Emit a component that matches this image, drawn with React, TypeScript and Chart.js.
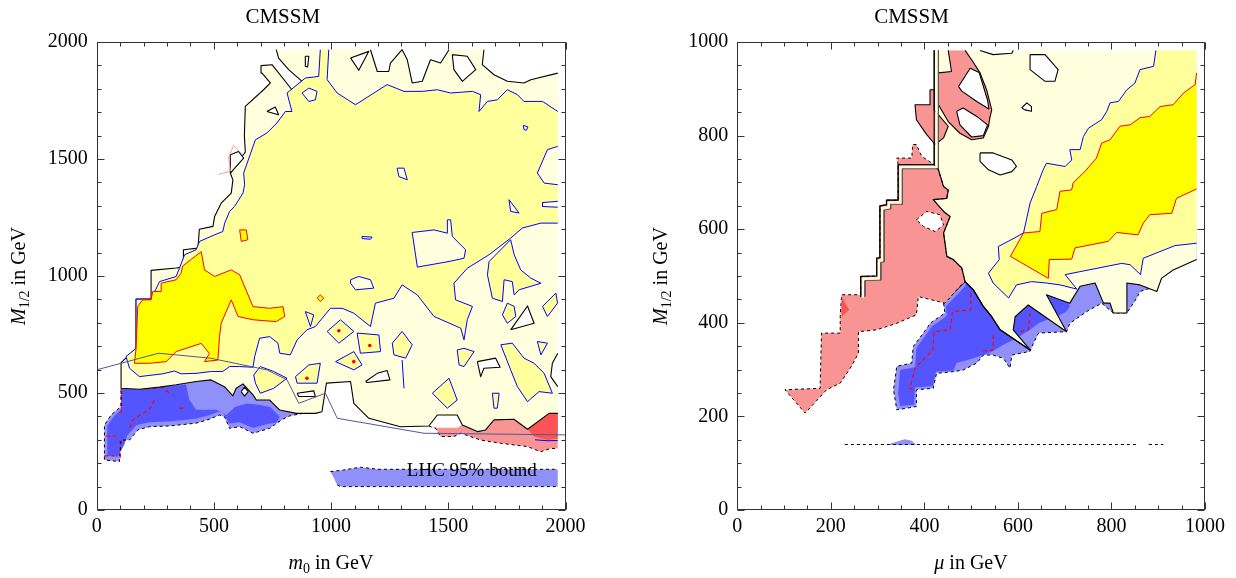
import React, { useEffect, useRef } from "react";
import { Chart, registerables } from "chart.js";
Chart.register(...registerables);

type P = [number, number];

const SERIF = '"Liberation Serif", "DejaVu Serif", serif';

// ---------- axes / labels ----------
const chartTitle = "CMSSM";
const leftTicks = [0, 500, 1000, 1500, 2000];
const rightTicks = [0, 200, 400, 600, 800, 1000];
const leftEdge = 1967; // extent of the scanned grid (left panel)
const rightEdge = 982; // extent of the scanned grid (right panel)
const lhcLabel = { text: "LHC 95% bound", x: 1600, y: 165 };

// ---------- colours ----------
const C = {
  ly: "#FFFFDE",
  my: "#FFFF9C",
  by: "#FFFF00",
  pink: "#F99494",
  dred: "#FA5454",
  lblue: "#9090FA",
  dblue: "#5555FF",
  blue: "#0000FF",
  red: "#FF0000",
  black: "#000000",
  white: "#FFFFFF",
  lhc: "#55559A",
};

// =================== LEFT PANEL (m0, M1/2) ===================
const L_outer: P[] = [[104,520],[104,630],[168,691],[168,901],[232,901],[232,1024],[339,1034],[370,1038],[370,1112],[432,1119],[438,1200],[496,1212],[503,1254],[531,1311],[574,1354],[581,1411],[570,1440],[600,1480],[634,1530],[630,1600],[634,1725],[712,1796],[741,1825],[705,1867],[701,1899],[748,1903],[833,1796],[876,1832],[819,1882],[776,1931],[766,1967],[1168,1967],[1197,1874],[1246,1874],[1253,1910],[1303,1967],[1325,1924],[1346,1825],[1389,1832],[1424,1924],[1467,1910],[1503,1967],[1652,1967],[1645,1903],[1695,1860],[1752,1832],[1823,1825],[1852,1839],[1967,1867],[1967,670],[1944,627],[1937,570],[1967,527],[1967,413],[1930,413],[1838,345],[1780,388],[1695,385],[1659,342],[1624,335],[1560,363],[1538,406],[1453,406],[1417,359],[1296,356],[1161,392],[1097,456],[1083,549],[980,542],[961,420],[933,413],[852,413],[781,427],[738,470],[681,470],[667,492],[624,539],[595,520],[581,488],[545,527],[488,556],[424,549],[339,535],[268,525],[182,516]];
const L_mid: P[] = [[125,656],[168,691],[168,901],[232,901],[268,976],[339,998],[353,1033],[375,1091],[424,1112],[439,1148],[503,1176],[538,1190],[546,1226],[567,1276],[588,1297],[624,1354],[631,1390],[627,1440],[677,1582],[726,1611],[769,1654],[805,1703],[833,1703],[812,1782],[890,1846],[947,1853],[954,1967],[990,1967],[983,1839],[1026,1782],[1104,1732],[1239,1818],[1311,1789],[1389,1789],[1453,1796],[1510,1782],[1603,1789],[1638,1775],[1631,1703],[1667,1746],[1709,1753],[1752,1796],[1795,1775],[1823,1746],[1902,1746],[1967,1703],[1967,1554],[1923,1540],[1880,1440],[1909,1397],[1967,1390],[1967,1319],[1902,1314],[1902,1297],[1967,1294],[1967,1226],[1895,1226],[1816,1205],[1766,1162],[1674,1091],[1581,1033],[1524,969],[1531,898],[1603,870],[1581,813],[1567,727],[1553,777],[1439,827],[1368,919],[1303,962],[1268,905],[1189,884],[1168,784],[1097,841],[1047,862],[997,862],[933,784],[897,770],[855,727],[826,663],[781,670],[773,713],[738,741],[695,734],[674,656],[667,610],[610,613],[567,613],[538,592],[489,592],[424,584],[360,582],[332,594],[282,582],[182,570],[140,606]];
const L_paleIslands: P[][] = [
  [[1346,1186],[1439,1197],[1496,1183],[1496,1240],[1510,1240],[1517,1169],[1574,1112],[1567,1076],[1503,1062],[1368,1038]],
  [[1282,1461],[1311,1461],[1325,1411],[1289,1425]],
  [[1759,1326],[1802,1269],[1766,1276]],
  [[1820,1644],[1840,1637],[1833,1623],[1823,1626]],
  [[1083,984],[1118,998],[1168,984],[1182,948],[1104,941],[1083,969]],
  [[1132,1169],[1175,1166],[1168,1157],[1132,1160]],
  [[876,1782],[905,1803],[940,1789],[933,1753],[905,1746]],
];
const L_midIslands: P[][] = [
  [[890,848],[926,834],[912,784]],
  [[983,763],[1040,813],[1097,763],[1033,713]],
  [[1111,756],[1204,748],[1211,677],[1125,670]],
  [[1019,634],[1097,677],[1132,620],[1097,599]],
  [[1261,713],[1303,763],[1346,706],[1318,649],[1268,663]],
  [[1538,684],[1567,691],[1610,677],[1567,613],[1546,620]],
  [[1724,706],[1773,713],[1823,649],[1866,627],[1909,584],[1944,499],[1887,506],[1838,463],[1795,527],[1766,599]],
  [[848,570],[905,620],[954,627],[940,542],[855,542]],
  [[670,577],[698,613],[755,592],[812,563],[755,520],[698,499],[677,542]],
  [[1432,499],[1503,563],[1538,470],[1496,435]],
  [[1688,499],[1717,499],[1709,435],[1695,435]],
  [[1731,834],[1752,884],[1781,870],[1788,827],[1752,798]],
  [[1902,870],[1959,927],[1966,884],[1923,827]],
  [[1880,720],[1923,713],[1895,663]],
  [[1674,1062],[1667,1005],[1688,905],[1731,891],[1738,984],[1773,976],[1781,919],[1802,941],[1895,969],[1852,991],[1809,1026],[1781,1091],[1766,1155]],
];
const L_stalk: P[] = [[1303,641],[1311,520]];
const L_best: P[] = [[161,627],[168,691],[175,870],[196,898],[232,898],[239,934],[275,934],[275,969],[339,984],[360,1012],[367,1043],[446,1104],[460,1026],[503,998],[574,1026],[610,1005],[667,869],[738,862],[795,869],[802,827],[766,805],[667,813],[603,827],[574,898],[531,798],[524,741],[517,641],[460,634],[481,669],[446,712],[424,705],[339,677],[296,634],[225,627]];
const L_bestSmall: P[][] = [
  [[940,905],[954,919],[969,905],[954,891]],
  [[610,1197],[638,1197],[645,1155],[617,1148]],
];
const L_redDots: P[] = [[1033,766],[1097,634],[897,563],[1165,703]];
const L_holes: P[][] = [
  [[1766,770],[1838,872],[1866,798]],
  [[1624,634],[1702,649],[1721,610],[1652,606],[1638,570]],
  [[1147,549],[1197,584],[1239,596],[1251,556],[1154,545]],
  [[855,499],[926,509],[933,485],[862,485]],
  [[1083,1932],[1161,1960],[1118,1879]],
  [[890,1939],[905,1939],[900,1893],[890,1896]],
  [[1517,1946],[1581,1939],[1617,1882],[1560,1832],[1524,1882]],
  [[726,1703],[762,1722],[776,1689]],
  [[570,1518],[605,1532],[627,1504],[570,1440]],
  [[616,506],[631,525],[646,506],[631,487]],
];
const L_pinkTrace: P[] = [[520,1434],[570,1448],[563,1508],[584,1558],[627,1515]];
const L_lightBlue: P[] = [[104,520],[182,516],[268,525],[339,535],[424,549],[488,556],[545,527],[581,488],[595,520],[624,539],[667,492],[681,470],[738,470],[781,427],[852,413],[880,413],[823,402],[788,385],[738,349],[667,328],[610,356],[567,349],[545,399],[524,406],[481,388],[424,371],[310,359],[225,356],[175,342],[140,299],[104,299],[97,207],[33,214],[33,363],[61,406],[104,442]];
const L_lightBlueEdge: P[] = [[880,413],[823,402],[788,385],[738,349],[667,328],[610,356],[567,349],[545,399],[524,406],[481,388],[424,371],[310,359],[225,356],[175,342],[140,299],[104,299],[97,207],[33,214],[33,363],[61,406],[104,442],[104,520]];
const L_darkBlue: P[] = [[104,520],[182,516],[268,525],[382,536],[396,470],[424,428],[510,428],[553,406],[590,440],[640,455],[690,450],[740,440],[780,400],[770,375],[720,365],[667,350],[610,375],[565,370],[540,415],[520,420],[480,405],[420,390],[310,378],[225,375],[170,362],[130,318],[118,280],[90,228],[45,232],[45,360],[72,398],[104,430]];
const L_bluePatch: P[] = [[382,536],[424,549],[488,556],[505,520],[485,480],[440,470],[396,470]];
const L_redDashes: P[][] = [
  [[104,520],[104,413]],
  [[40,316],[82,316]],
  [[33,231],[75,231]],
  [[100,299],[100,214]],
  [[211,516],[282,525],[310,499]],
  [[246,470],[225,428],[196,413],[154,385],[140,349]],
  [[353,435],[375,435]],
];
const L_pink: P[] = [[1417,359],[1453,352],[1540,352],[1560,365],[1575,420],[1967,420],[1967,263],[1937,263],[1894,249],[1838,271],[1724,285],[1638,299],[1553,328],[1524,314],[1467,314],[1446,349]];
const L_darkRed: P[] = [[1838,345],[1930,413],[1967,413],[1967,306],[1925,299],[1866,314]];
const L_pinkEdge: P[] = [[1417,359],[1446,349],[1467,314],[1524,314],[1553,328],[1638,299],[1724,285],[1838,271],[1894,249],[1937,263],[1967,263]];
const L_redBlueBit: P[] = [[1870,300],[1925,296],[1967,297]];
const L_lhcBand: P[] = [[997,164],[1054,171],[1125,183],[1200,174],[1967,174],[1967,100],[1040,100],[1026,107],[1010,140]];
const L_lhcBandTop: P[] = [[997,164],[1054,171],[1125,183],[1200,174],[1967,174]];
const L_lhcBandBottom: P[] = [[1026,107],[1040,100],[1967,100]];
const L_lhcCurve: P[] = [[0,599],[264,670],[484,649],[726,599],[812,556],[862,456],[976,499],[1026,392],[1396,328],[2000,321]];

// =================== RIGHT PANEL (mu, M1/2) ===================
const R_outer: P[] = [[421,982],[982,982],[982,535],[932,513],[907,495],[897,467],[861,481],[833,485],[833,421],[804,421],[797,442],[783,442],[765,485],[733,478],[711,442],[661,460],[704,381],[622,438],[594,413],[590,385],[626,342],[562,385],[544,413],[526,435],[505,470],[487,488],[476,478],[444,446],[383,460],[264,456],[264,499],[298,500],[298,538],[305,539],[305,650],[319,652],[319,662],[344,662],[344,738],[421,738]];
const R_mid: P[] = [[895,982],[982,982],[982,570],[936,565],[868,538],[862,503],[840,524],[822,527],[701,503],[726,472],[690,481],[661,485],[629,488],[597,481],[580,453],[547,485],[537,506],[560,535],[558,563],[583,576],[612,592],[626,656],[640,691],[654,727],[661,741],[701,734],[715,748],[711,770],[733,770],[740,798],[751,816],[779,834],[790,852],[797,870],[815,873],[833,898],[850,912],[861,941],[890,948]];
const R_best: P[] = [[982,934],[979,909],[954,891],[932,866],[904,862],[882,841],[861,838],[840,823],[818,820],[797,791],[779,784],[768,752],[743,723],[718,699],[715,684],[690,681],[683,642],[651,634],[647,595],[612,592],[584,542],[665,495],[667,535],[715,536],[722,560],[793,574],[811,593],[857,588],[868,613],[882,631],[929,634],[939,666],[982,686]];
const R_holes: P[][] = [
  [[626,973],[658,973],[686,941],[679,916],[658,916],[626,941]],
  [[608,859],[619,870],[629,862],[629,852],[615,855]],
  [[519,763],[547,763],[587,748],[597,734],[587,723],[562,716],[537,727],[519,745]],
  [[519,982],[547,973],[587,976],[590,982]],
];
const R_pinkTop: P[] = [[451,982],[487,982],[501,962],[519,934],[533,898],[544,855],[540,838],[537,820],[526,795],[501,791],[476,805],[451,830],[430,866],[430,934],[458,937]];
const R_pinkTopHoles: P[][] = [
  [[473,905],[498,944],[517,935],[535,876],[538,857],[512,873],[480,895]],
  [[469,852],[483,859],[512,841],[535,823],[526,800],[501,797],[476,823]],
];
const R_pink2: P[] = [[412,898],[421,898],[421,855],[451,820],[441,795],[423,781],[405,802],[383,834],[380,866],[412,866]];
const R_pinkMain: P[] = [[344,738],[341,752],[373,752],[375,781],[383,781],[394,756],[421,738],[430,727],[441,691],[451,684],[448,666],[419,663],[441,638],[455,627],[441,592],[448,542],[462,535],[480,517],[487,488],[476,478],[444,442],[387,456],[383,417],[341,399],[298,385],[259,381],[259,335],[244,307],[220,271],[191,257],[145,207],[102,257],[177,260],[180,378],[220,378],[220,413],[223,460],[264,460],[264,499],[298,500],[298,538],[305,539],[305,650],[319,652],[319,662],[344,662]];
const R_pinkMainHole: P[] = [[383,620],[405,638],[433,631],[441,609],[423,595],[398,606]];
const R_darkRed: P[] = [[223,456],[239,428],[223,413]];
const R_pinkRightEdge: P[] = [[626,342],[562,385],[544,413],[526,435],[505,470],[487,488],[480,517],[462,535],[448,542],[441,592],[455,627],[441,638],[419,663],[448,666],[451,684],[441,691],[430,727],[421,738]];
const R_stair: P[] = [[421,982],[421,738],[344,738],[344,662],[319,662],[319,652],[305,650],[305,539],[298,538],[298,500],[264,499],[264,456]];
const R_stairGap: P[] = [[426,982],[426,733],[349,733],[349,657],[324,657],[324,647],[310,645],[310,534],[303,533],[303,495],[269,494],[269,456]];
const R_stairInner: P[] = [[430,982],[430,729],[353,729],[353,653],[328,653],[328,643],[314,641],[314,530],[307,529],[307,491],[273,490],[273,456]];
const R_lightBlue: P[] = [[441,442],[444,421],[412,399],[408,392],[376,349],[373,314],[341,307],[334,257],[341,214],[383,221],[383,257],[419,260],[426,292],[465,296],[483,299],[512,314],[526,331],[547,331],[569,324],[583,303],[587,331],[626,339],[633,356],[644,378],[704,381],[711,399],[747,424],[779,442],[804,421],[833,421],[854,453],[861,467],[897,478],[907,495],[932,513],[954,527],[982,535],[982,599],[626,599],[483,527],[469,485]];
const R_lightBlueEdge: P[] = [[441,442],[444,421],[412,399],[408,392],[376,349],[373,314],[341,307],[334,257],[341,214],[383,221],[383,257],[419,260],[426,292],[465,296],[483,299],[512,314],[526,331],[547,331],[569,324],[583,303],[587,331],[626,339],[633,356],[644,378],[704,381],[711,399],[747,424],[779,442],[804,421],[833,421],[854,453],[861,467],[897,478],[907,495],[932,513],[954,527],[982,535]];
const R_darkBlue: P[] = [[446,435],[448,415],[416,392],[383,346],[380,305],[348,299],[344,249],[348,222],[378,225],[380,262],[418,265],[425,296],[462,298],[469,314],[505,324],[540,336],[569,353],[597,367],[626,385],[644,399],[661,406],[683,413],[704,424],[711,435],[697,470],[626,527],[498,513],[487,478]];
const R_redDashes: P[][] = [
  [[499,463],[499,428],[460,424],[455,385],[421,381],[418,342],[380,303],[369,260],[383,253]],
  [[626,421],[622,385],[605,381]],
  [[547,374],[547,342],[519,339]],
];
const R_baseBump: P[] = [[319,139],[340,146],[358,151],[373,148],[383,139]];
const R_baseLines: P[][] = [
  [[230,140],[857,140]],
  [[880,140],[911,140]],
];

// ---------- helpers ----------
const xy = (poly: P[]) => poly.map(([x, y]) => ({ x, y }));

function outline(poly: P[], lim: number) {
  const out: any[] = [];
  const n = poly.length;
  for (let i = 0; i <= n; i++) {
    const p = poly[i % n];
    if (i > 0) {
      const q = poly[i - 1];
      const onEdge = (q[0] >= lim && p[0] >= lim) || (q[1] >= lim && p[1] >= lim);
      if (onEdge) out.push({ x: null, y: null });
    }
    out.push({ x: p[0], y: p[1] });
  }
  return out;
}

class Layers {
  list: any[] = [];
  lim: number;
  constructor(lim: number) { this.lim = lim; }
  push(d: any) { d.order = -this.list.length; this.list.push(d); }
  area(poly: P[], color: string) {
    this.push({ data: xy(poly), showLine: true, fill: "shape", backgroundColor: color, borderColor: "rgba(0,0,0,0)", borderWidth: 0, pointRadius: 0, tension: 0 });
  }
  line(data: any[], color: string, width = 1, dash: number[] = []) {
    this.push({ data, showLine: true, fill: false, borderColor: color, borderWidth: width, borderDash: dash, borderJoinStyle: "round", pointRadius: 0, tension: 0, spanGaps: false });
  }
  path(poly: P[], color: string, width = 1, dash: number[] = []) { this.line(xy(poly), color, width, dash); }
  shape(poly: P[], fillColor: string, lineColor: string, width = 1, dash: number[] = []) {
    this.area(poly, fillColor);
    this.line(outline(poly, this.lim), lineColor, width, dash);
  }
  dots(points: P[], color: string, r: number) {
    this.push({ data: xy(points), showLine: false, pointRadius: r, pointBackgroundColor: color, pointBorderWidth: 0 });
  }
}

const DASH = [3, 3];

function leftDatasets() {
  const b = new Layers(leftEdge);
  b.area(L_lhcBand, C.lblue);
  b.path(L_lhcBandTop, C.black, 1, DASH);
  b.path(L_lhcBandBottom, C.black, 1, DASH);
  b.area(L_lightBlue, C.lblue);
  b.area(L_darkBlue, C.dblue);
  b.area(L_bluePatch, C.lblue);
  L_redDashes.forEach((d) => b.path(d, C.red, 1.2, [4, 3]));
  b.path(L_lightBlueEdge, C.black, 1, DASH);
  b.area(L_pink, C.pink);
  b.area(L_darkRed, C.dred);
  b.path(L_redBlueBit, C.blue, 1);
  b.path(L_pinkEdge, C.black, 1, DASH);
  b.shape(L_outer, C.ly, C.black, 1.1);
  b.shape(L_mid, C.my, C.blue, 1);
  L_paleIslands.forEach((p) => b.shape(p, C.ly, C.blue, 1));
  L_midIslands.forEach((p) => b.shape(p, C.my, C.blue, 1));
  b.path(L_stalk, C.blue, 1);
  b.shape(L_best, C.by, C.red, 1);
  L_bestSmall.forEach((p) => b.shape(p, C.by, C.red, 1));
  L_holes.forEach((p) => b.shape(p, C.white, C.black, 1.1));
  b.path(L_pinkTrace, "#FF9A9A", 1);
  b.dots(L_redDots, C.red, 1.8);
  b.path(L_lhcCurve, C.lhc, 1);
  return b.list;
}

function rightDatasets() {
  const b = new Layers(rightEdge);
  b.area(R_baseBump, C.lblue);
  R_baseLines.forEach((d) => b.path(d, C.black, 1, DASH));
  b.area(R_lightBlue, C.lblue);
  b.area(R_darkBlue, C.dblue);
  R_redDashes.forEach((d) => b.path(d, C.red, 1.2, [4, 3]));
  b.path(R_lightBlueEdge, C.black, 1, DASH);
  b.shape(R_outer, C.ly, C.black, 1.1);
  b.shape(R_mid, C.my, C.blue, 1);
  b.shape(R_best, C.by, C.red, 1);
  R_holes.forEach((p) => b.shape(p, C.white, C.black, 1.1));
  b.shape(R_pinkMain, C.pink, C.black, 1, DASH);
  b.shape(R_pinkMainHole, C.white, C.black, 1, DASH);
  b.area(R_darkRed, C.dred);
  b.shape(R_pinkTop, C.pink, C.black, 1.1);
  R_pinkTopHoles.forEach((p) => b.shape(p, C.white, C.black, 1.1));
  b.shape(R_pink2, C.pink, C.black, 1.1);
  b.path(R_pinkRightEdge, C.black, 1.2);
  b.path(R_stairGap, C.ly, 2.6);
  b.path(R_stairInner, "#555555", 0.9);
  b.path(R_stair, C.black, 1.2);
  return b.list;
}

// ---------- plugins ----------
const frameTicks = {
  id: "frameTicks",
  afterDatasetsDraw(chart: any, _args: any, opts: any) {
    const { ctx, chartArea: a, scales } = chart;
    const xs = scales.x, ys = scales.y;
    ctx.save();
    ctx.strokeStyle = "#333";
    ctx.lineWidth = 1;
    const L = Math.round(a.left) + 0.5, R = Math.round(a.right) - 0.5;
    const T = Math.round(a.top) + 0.5, B = Math.round(a.bottom) - 0.5;
    ctx.strokeRect(L, T, R - L, B - T);
    ctx.beginPath();
    const n = Math.round(opts.max / opts.minor);
    for (let i = 0; i <= n; i++) {
      const v = i * opts.minor;
      const major = opts.majors.includes(v);
      const len = major ? 7 : 4;
      const px = Math.round(xs.getPixelForValue(v)) + 0.5;
      const py = Math.round(ys.getPixelForValue(v)) + 0.5;
      ctx.moveTo(px, B); ctx.lineTo(px, B - len);
      ctx.moveTo(px, T); ctx.lineTo(px, T + len);
      ctx.moveTo(L, py); ctx.lineTo(L + len, py);
      ctx.moveTo(R, py); ctx.lineTo(R - len, py);
    }
    ctx.stroke();
    if (opts.note) {
      ctx.font = `19px ${SERIF}`;
      ctx.fillStyle = "#000";
      ctx.textAlign = "center";
      ctx.textBaseline = "middle";
      ctx.fillText(opts.note.text, xs.getPixelForValue(opts.note.x), ys.getPixelForValue(opts.note.y));
    }
    ctx.restore();
  },
};

function drawRich(ctx: any, parts: any[], cx: number, cy: number, rot: number) {
  ctx.save();
  ctx.translate(cx, cy);
  ctx.rotate(rot);
  let w = 0;
  const items = parts.map((p) => {
    const font = `${p.italic ? "italic " : ""}${p.sub ? 14 : 20}px ${SERIF}`;
    ctx.font = font;
    const mw = ctx.measureText(p.t).width;
    w += mw;
    return { ...p, font, mw };
  });
  let x = -w / 2;
  ctx.textBaseline = "alphabetic";
  ctx.textAlign = "left";
  ctx.fillStyle = "#000";
  for (const it of items) {
    ctx.font = it.font;
    ctx.fillText(it.t, x, 7 + (it.sub ? 4 : 0));
    x += it.mw;
  }
  ctx.restore();
}

const axisTitles = {
  id: "axisTitles",
  afterDraw(chart: any, _args: any, opts: any) {
    const { ctx } = chart;
    drawRich(ctx, opts.x, opts.xPos[0], opts.xPos[1], 0);
    drawRich(ctx, opts.y, opts.yPos[0], opts.yPos[1], -Math.PI / 2);
  },
};

const yTitle = [{ t: "M", italic: true }, { t: "1/2", sub: true }, { t: " in GeV" }];
const xTitleLeft = [{ t: "m", italic: true }, { t: "0", sub: true }, { t: " in GeV" }];
const xTitleRight = [{ t: "\u03bc", italic: true }, { t: " in GeV" }];

function makeConfig(side: "L" | "R") {
  const isL = side === "L";
  const ticks = isL ? leftTicks : rightTicks;
  const max = ticks[ticks.length - 1];
  const tickFont = { family: SERIF, size: 20 };
  const axis = (afterFit: (s: any) => void, pad: number) => ({
    type: "linear",
    min: 0,
    max,
    grid: { display: false, drawTicks: false },
    border: { display: false },
    afterBuildTicks: (s: any) => { s.ticks = ticks.map((v) => ({ value: v })); },
    ticks: { font: tickFont, color: "#000", padding: pad, maxRotation: 0, autoSkip: false, callback: (v: any) => String(v) },
    afterFit,
  });
  return {
    type: "scatter",
    data: { datasets: isL ? leftDatasets() : rightDatasets() },
    options: {
      animation: false,
      responsive: false,
      events: [],
      layout: { padding: { left: 0, right: isL ? 52.5 : 31, top: 0, bottom: 0 } },
      plugins: {
        legend: { display: false },
        tooltip: { enabled: false },
        title: { display: true, text: chartTitle, color: "#000", font: { family: SERIF, size: 21, weight: "normal" }, padding: { top: 5, bottom: 11.8 } },
        frameTicks: { max, minor: isL ? 100 : 50, majors: ticks, note: isL ? lhcLabel : null },
        axisTitles: {
          x: isL ? xTitleLeft : xTitleRight,
          y: yTitle,
          xPos: isL ? [331, 562] : [353, 562],
          yPos: isL ? [18, 276] : [42, 276],
        },
      },
      scales: {
        x: axis((s: any) => { s.height = 68; }, 5),
        y: axis((s: any) => { s.width = isL ? 96.7 : 119.3; }, 9),
      },
    },
    plugins: [frameTicks, axisTitles],
  };
}

function Panel({ side, left }: { side: "L" | "R"; left: number }) {
  const ref = useRef<HTMLCanvasElement>(null);
  useEffect(() => {
    const chart = new Chart(ref.current as any, makeConfig(side) as any);
    return () => chart.destroy();
  }, [side]);
  return (
    <canvas
      ref={ref}
      width={618}
      height={578}
      style={{ position: "absolute", left, top: 0, width: 618, height: 578 }}
    />
  );
}

export default function App() {
  return (
    <div style={{ position: "absolute", left: 0, top: 0, width: 1236, height: 578, background: "#fff" }}>
      <Panel side="L" left={0} />
      <Panel side="R" left={618} />
    </div>
  );
}
